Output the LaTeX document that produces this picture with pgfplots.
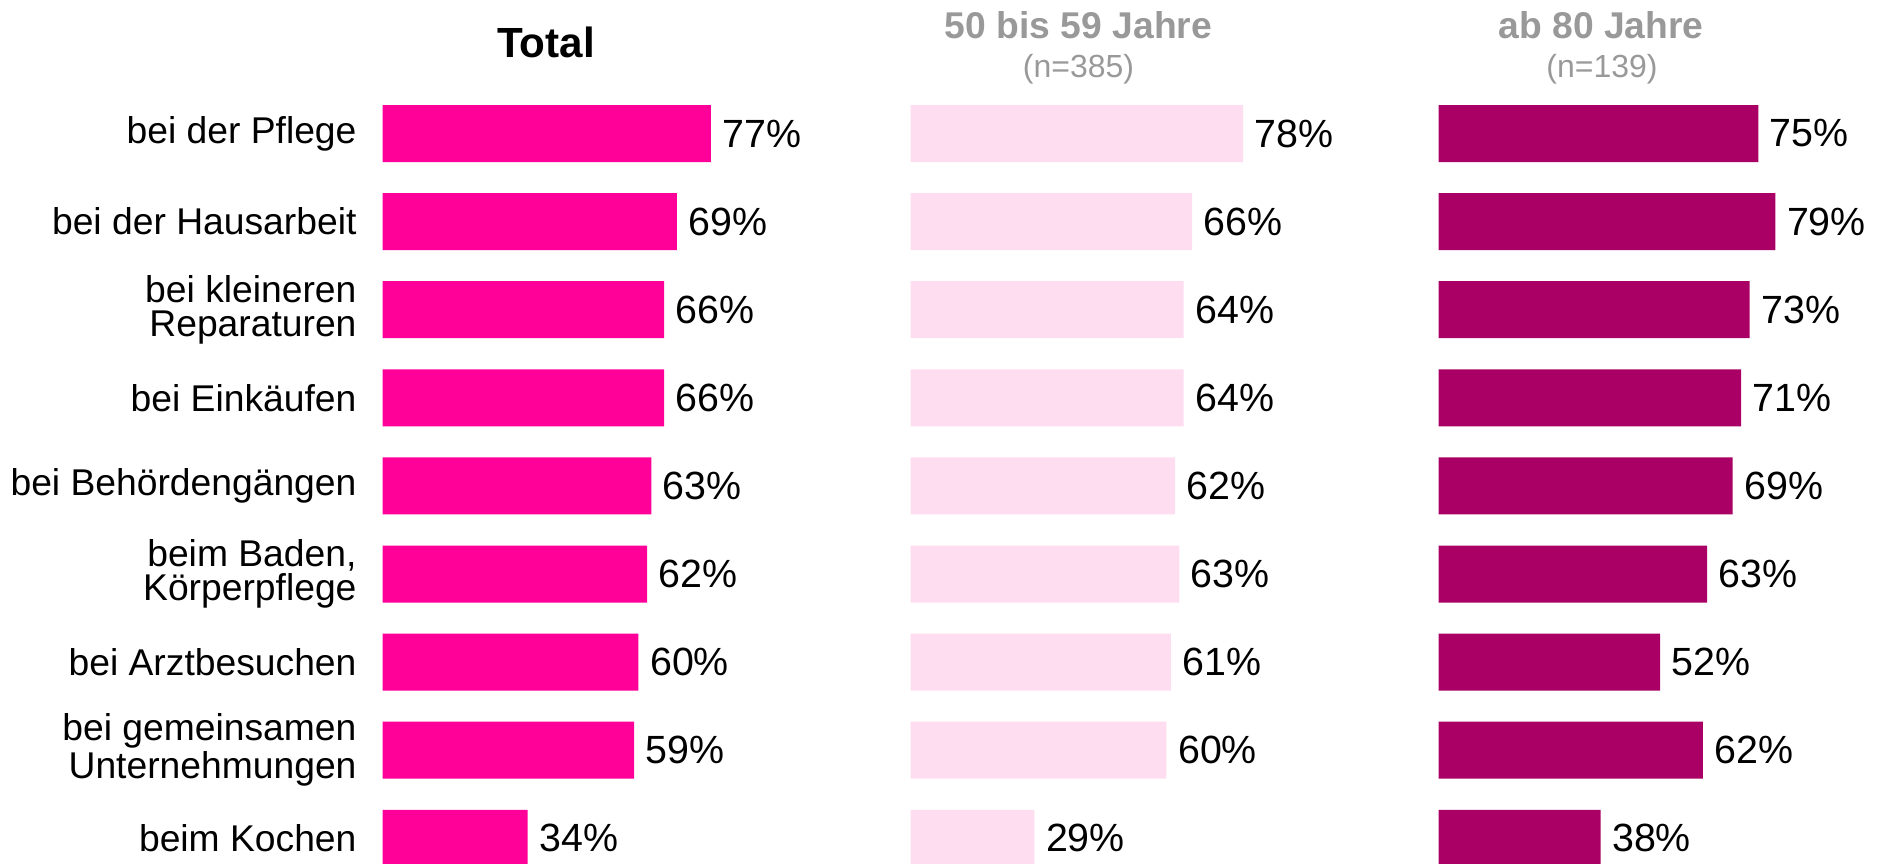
\documentclass[border=0pt]{standalone}
\usepackage{fontspec}
\setmainfont{Liberation Sans}
\usepackage{pgfplots}
\pgfplotsset{compat=1.18}

\definecolor{cTotal}{HTML}{FF0099}
\definecolor{cMid}{HTML}{FFDDF0}
\definecolor{cOld}{HTML}{AA0066}
\definecolor{cHead}{HTML}{999999}

\pgfplotsset{
  panel/.style={
    anchor=north west,
    xbar, bar width=5.7mm, bar shift=0pt,
    x=0.4263mm, y=8.81mm,
    xmin=0, xmax=77, ymin=-0.5, ymax=8.5,
    enlargelimits=false,
    y dir=reverse,
    clip=false,
    axis line style={draw=none},
    major tick length=0pt,
    xtick=\empty,
    ytick={0,...,8},
    yticklabels={},
    /pgf/number format/assume math mode=true,
    point meta=x,
    nodes near coords={\pgfmathprintnumber{\pgfplotspointmeta}\%},
    nodes near coords style={font=\fontsize{11.2}{13}\selectfont, anchor=west,
      inner sep=0pt, xshift=1.1mm, text=black},
  },
}

\begin{document}
\begin{tikzpicture}
\useasboundingbox (0,0) rectangle (188.3mm,-86.4mm);

% Total
\begin{axis}[panel, at={(38.27mm,-8.945mm)},
  yticklabels={bei der Pflege, bei der Hausarbeit,
    {bei kleineren\\Reparaturen}, bei Einkäufen, bei Behördengängen,
    {beim Baden,\\Körperpflege}, bei Arztbesuchen,
    {bei gemeinsamen\\Unternehmungen}, beim Kochen},
  yticklabel style={align=right, font=\fontsize{10.6}{9.5}\selectfont,
    inner sep=0pt, xshift=-2.55mm},
]
\addplot[draw=none, fill=cTotal] coordinates {
  (77,0) (69,1) (66,2) (66,3) (63,4) (62,5) (60,6) (59,7) (34,8)
};
\end{axis}

% 50 bis 59 Jahre
\begin{axis}[panel, at={(91.07mm,-8.945mm)}]
\addplot[draw=none, fill=cMid] coordinates {
  (78,0) (66,1) (64,2) (64,3) (62,4) (63,5) (61,6) (60,7) (29,8)
};
\end{axis}

% ab 80 Jahre
\begin{axis}[panel, at={(143.85mm,-8.945mm)}]
\addplot[draw=none, fill=cOld] coordinates {
  (75,0) (79,1) (73,2) (71,3) (69,4) (63,5) (52,6) (62,7) (38,8)
};
\end{axis}

\node[anchor=base, font=\fontsize{12}{14}\selectfont\bfseries] at (54.6mm,-5.8mm) {Total};
\node[anchor=base, font=\fontsize{10.6}{12}\selectfont\bfseries, text=cHead] at (107.85mm,-3.83mm) {50 bis 59 Jahre};
\node[anchor=base, font=\fontsize{9.1}{11}\selectfont, text=cHead] at (107.85mm,-7.8mm) {(n=385)};
\node[anchor=base, font=\fontsize{10.6}{12}\selectfont\bfseries, text=cHead] at (160.1mm,-3.83mm) {ab 80 Jahre};
\node[anchor=base, font=\fontsize{9.1}{11}\selectfont, text=cHead] at (160.2mm,-7.8mm) {(n=139)};
\end{tikzpicture}
\end{document}
